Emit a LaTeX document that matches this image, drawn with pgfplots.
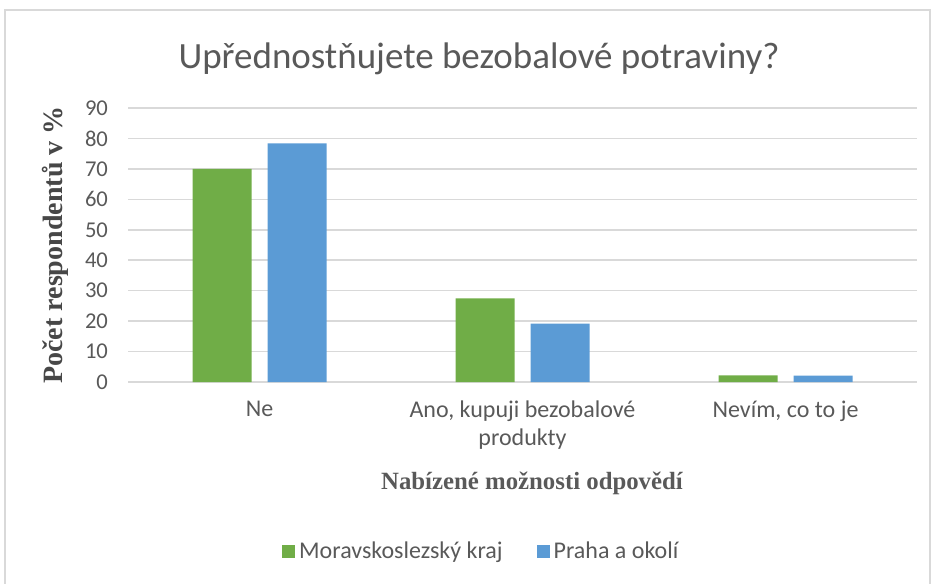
\documentclass[border=0pt]{standalone}
\usepackage{fontspec}
\setmainfont{Carlito}
\newfontfamily\tnr{Liberation Serif}
\usepackage{pgfplots}
\pgfplotsset{compat=1.18}
\definecolor{mgreen}{HTML}{70AD47}
\definecolor{mblue}{HTML}{5B9BD5}
\definecolor{txtgray}{HTML}{595959}
\definecolor{gridgray}{HTML}{D9D9D9}
\begin{document}
\begin{tikzpicture}
\path[use as bounding box] (0,0) rectangle (467.5pt,291.5pt);
\draw[gridgray,line width=0.8pt] (2.5pt,-5pt) rectangle (465pt,286.5pt);
\node[font=\fontsize{18.5}{21}\selectfont,text=txtgray] at (239.5pt,262pt) {Upřednostňujete bezobalové potraviny?};
\begin{axis}[
  at={(64pt,100.5pt)}, anchor=south west,
  scale only axis, width=394.5pt, height=137pt,
  ybar=8pt, bar width=29.5pt,
  xmin=-0.5, xmax=2.5, ymin=0, ymax=90,
  ytick={0,10,...,90},
  xtick=data,
  xticklabels={Ne,{Ano, kupuji bezobalové\\produkty},{Nevím, co to je}},
  xticklabel style={align=center, font=\fontsize{12}{14}\selectfont, text=txtgray, yshift=-6pt},
  yticklabel style={font=\fontsize{11.3}{13}\selectfont, text=txtgray, xshift=-6.5pt},
  /pgf/number format/assume math mode=true,
  major tick length=0pt,
  axis x line*=bottom, axis y line*=left,
  x axis line style={gridgray, line width=0.8pt, -},
  y axis line style={draw=none},
  ymajorgrids, grid style={gridgray, line width=0.8pt},
  xlabel={\tnr\bfseries Nabízené možnosti odpovědí},
  xlabel style={font=\fontsize{12.4}{14}\selectfont, text=txtgray,
    at={(axis description cs:0.512,-0.369)}, anchor=center},
  ylabel={\tnr\bfseries Počet respondentů v \%},
  ylabel style={font=\fontsize{14}{16}\selectfont, text=txtgray!80!black,
    at={(axis description cs:-0.092,0.5)}, anchor=center},
  legend columns=2,
  legend style={at={(0.449,-0.62)}, anchor=center, draw=none, fill=none,
    font=\fontsize{12}{14}\selectfont, text=txtgray,
    /tikz/every even column/.append style={column sep=15pt}},
  legend image code/.code={\fill[#1] (0pt,-3.25pt) rectangle (6.5pt,3.25pt);},
  every axis plot/.append style={draw=none},
]
\addplot[fill=mgreen] coordinates {(0,70.0) (1,27.5) (2,2.2)};
\addlegendentry{Moravskoslezský kraj}
\addplot[fill=mblue] coordinates {(0,78.4) (1,19.2) (2,2.1)};
\addlegendentry{Praha a okolí}
\end{axis}
\end{tikzpicture}
\end{document}
